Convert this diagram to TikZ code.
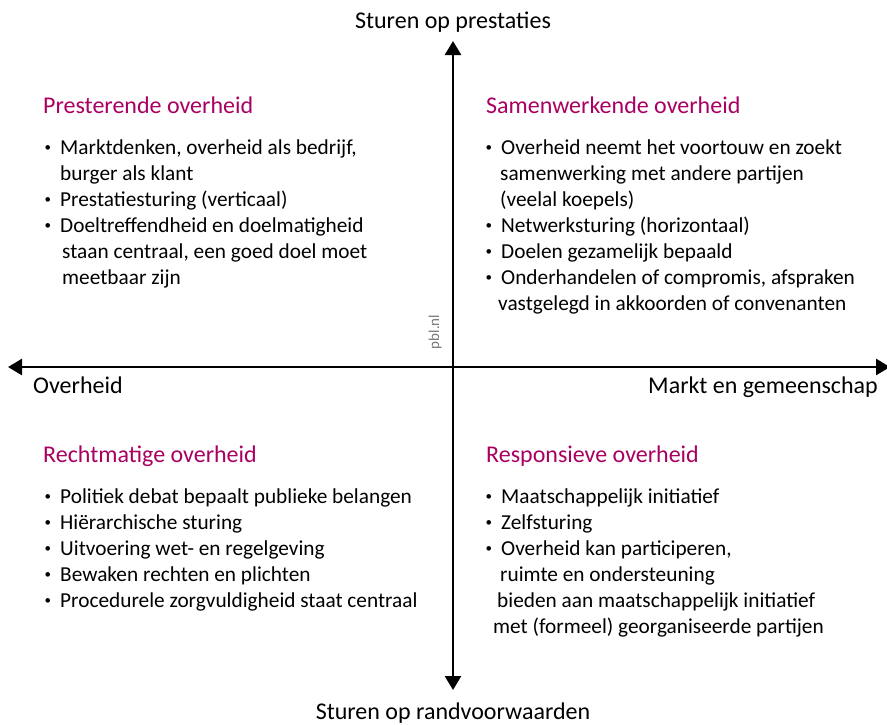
\documentclass[tikz,border=0pt]{standalone}
\usepackage{fontspec}
\setmainfont{Carlito}
\usetikzlibrary{arrows.meta,positioning}
\definecolor{pblpurple}{RGB}{169,0,97}
\definecolor{pblgray}{RGB}{120,120,120}

\tikzset{
  axis/.style={line width=2.6pt, {Triangle[length=14pt,width=16pt]}-{Triangle[length=14pt,width=16pt]}},
  axislabel/.style={inner sep=0pt, font=\fontsize{24}{28}\selectfont},
  head/.style={anchor=base west, inner sep=0pt, text=pblpurple, font=\fontsize{24}{28}\selectfont},
  item/.style={anchor=base west, inner sep=0pt, font=\fontsize{21.3}{26}\selectfont},
}
\newcommand{\bul}{\makebox[17pt][l]{\hspace{1.5pt}\raisebox{2.6pt}{\fontsize{13}{13}\selectfont •}}}

\begin{document}
\begin{tikzpicture}[x=1pt,y=-1pt]
\useasboundingbox (0,0) rectangle (887,724);

% axes
\coordinate (top) at (453,41);
\coordinate (bottom) at (453,690);
\coordinate (left) at (8,367);
\coordinate (right) at (890,367);
\draw[axis] (bottom) -- (top);
\draw[axis] (left) -- (right);

\node[axislabel, anchor=base] (prestaties) at (453,28) {Sturen op prestaties};
\node[axislabel, anchor=base] (randvoorwaarden) at (453,719) {Sturen op randvoorwaarden};
\node[axislabel, anchor=base west] (overheid) at (33,393) {Overheid};
\node[axislabel, anchor=base east] (markt) at (878,393) {Markt en gemeenschap};
\node[rotate=90, inner sep=0pt, text=pblgray, font=\fontsize{15}{18}\selectfont] (pbl) at (435,332) {pbl.nl};

% top left
\node[head] (presterend) at (43,113) {Presterende overheid};
\foreach \x/\y/\t [count=\i] in {43/154/{\bul Marktdenken, overheid als bedrijf,},
    60/180/{burger als klant},
    43/206/{\bul Prestatiesturing (verticaal)},
    43/232/{\bul Doeltreffendheid en doelmatigheid},
    62/258/{staan centraal, een goed doel moet},
    62/284/{meetbaar zijn}}
  \node[item] (pres\i) at (\x,\y) {\t};

% top right
\node[head] (samenwerkend) at (486,113) {Samenwerkende overheid};
\foreach \x/\y/\t [count=\i] in {484/154/{\bul Overheid neemt het voortouw en zoekt},
    500/180/{samenwerking met andere partijen},
    500/206/{(veelal koepels)},
    484/232/{\bul Netwerksturing (horizontaal)},
    484/258/{\bul Doelen gezamelijk bepaald},
    484/284/{\bul Onderhandelen of compromis, afspraken},
    498/310/{vastgelegd in akkoorden of convenanten}}
  \node[item] (samen\i) at (\x,\y) {\t};

% bottom left
\node[head] (rechtmatig) at (43,462) {Rechtmatige overheid};
\foreach \x/\y/\t [count=\i] in {43/503/{\bul Politiek debat bepaalt publieke belangen},
    43/529/{\bul Hiërarchische sturing},
    43/555/{\bul Uitvoering wet- en regelgeving},
    43/581/{\bul Bewaken rechten en plichten},
    43/607/{\bul Procedurele zorgvuldigheid staat centraal}}
  \node[item] (recht\i) at (\x,\y) {\t};

% bottom right
\node[head] (responsief) at (486,462) {Responsieve overheid};
\foreach \x/\y/\t [count=\i] in {484/503/{\bul Maatschappelijk initiatief},
    484/529/{\bul Zelfsturing},
    484/555/{\bul Overheid kan participeren,},
    500/581/{ruimte en ondersteuning},
    497/607/{bieden aan maatschappelijk initiatief},
    493/633/{met (formeel) georganiseerde partijen}}
  \node[item] (resp\i) at (\x,\y) {\t};
\end{tikzpicture}
\end{document}
